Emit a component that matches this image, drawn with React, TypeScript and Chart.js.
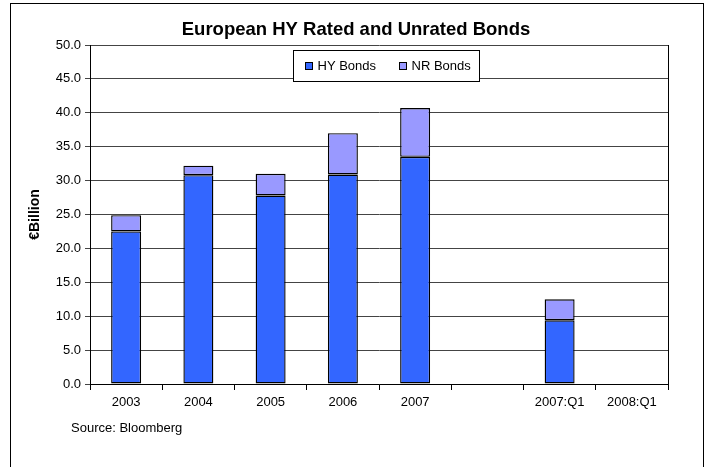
import React, { useEffect, useRef } from "react";
import { Chart, registerables } from "chart.js";

Chart.register(...registerables);

const categories = ["2003", "2004", "2005", "2006", "2007", "", "2007:Q1", "2008:Q1"];
const hyBonds = [22.5, 30.8, 27.8, 30.9, 33.5, null, 9.4, null];
const nrBonds = [2.4, 1.4, 3.2, 6.1, 7.2, null, 3.1, null];
const seriesNames = ["HY Bonds", "NR Bonds"];
const seriesColors = ["#3366FF", "#9999FF"];
const yMin = 0;
const yMax = 50;
const yStep = 5;
const chartTitle = "European HY Rated and Unrated Bonds";
const yTitle = "€Billion";
const sourceNote = "Source: Bloomberg";

const FONT = "'Liberation Sans', Arial, Helvetica, sans-serif";

const boxedLegend = {
  id: "boxedLegend",
  afterDatasetsDraw(chart: any) {
    const { ctx, chartArea } = chart;
    const left = Math.round(chartArea.left) + 203.5;
    const top = Math.round(chartArea.top) + 5.5;
    const w = 186;
    const h = 31;
    ctx.save();
    ctx.fillStyle = "#fff";
    ctx.strokeStyle = "#000";
    ctx.lineWidth = 1;
    ctx.fillRect(left, top, w, h);
    ctx.strokeRect(left, top, w, h);
    ctx.font = `13px ${FONT}`;
    ctx.textBaseline = "middle";
    ctx.textAlign = "left";
    const cy = top + h / 2;
    const offsets = [12, 106];
    chart.data.datasets.forEach((ds: any, i: number) => {
      const x = left + offsets[i];
      ctx.fillStyle = ds.backgroundColor;
      ctx.fillRect(x, cy - 3.5, 7, 7);
      ctx.strokeRect(x, cy - 3.5, 7, 7);
      ctx.fillStyle = "#000";
      ctx.fillText(ds.label, x + 12, cy + 0.5);
    });
    ctx.restore();
  },
};

export default function App() {
  const canvasRef = useRef<HTMLCanvasElement | null>(null);

  useEffect(() => {
    const canvas = canvasRef.current;
    if (!canvas) return;
    const barStyle = {
      borderColor: "#000",
      borderWidth: 1.4,
      borderSkipped: false,
      inflateAmount: 0,
      barPercentage: 0.415,
      categoryPercentage: 1,
    };
    const chart = new Chart(canvas, {
      type: "bar",
      data: {
        labels: categories,
        datasets: [
          { label: seriesNames[0], data: hyBonds, backgroundColor: seriesColors[0], ...barStyle },
          { label: seriesNames[1], data: nrBonds, backgroundColor: seriesColors[1], ...barStyle },
        ],
      },
      options: {
        responsive: false,
        animation: false,
        devicePixelRatio: 1,
        layout: { padding: { left: 2, right: 0, top: 0, bottom: 0 } },
        plugins: {
          legend: { display: false },
          tooltip: { enabled: false },
          title: {
            display: true,
            text: chartTitle,
            color: "#000",
            font: { family: FONT, size: 18.5, weight: "bold" },
            padding: { top: 18.9, bottom: 3.9 },
          },
        },
        scales: {
          x: {
            stacked: true,
            offset: true,
            grid: {
              display: true,
              offset: true,
              drawOnChartArea: false,
              drawTicks: true,
              tickLength: 6,
              color: "#000",
            },
            border: { display: true, color: "#000", width: 1 },
            ticks: {
              color: "#000",
              font: { family: FONT, size: 13 },
              padding: 5,
              maxRotation: 0,
              autoSkip: false,
            },
            afterFit: (scale: any) => {
              scale.height = 83;
            },
          },
          y: {
            stacked: true,
            min: yMin,
            max: yMax,
            position: "left",
            grid: {
              color: "#444",
              drawTicks: true,
              tickLength: 5,
            },
            border: { display: true, color: "#000", width: 1 },
            ticks: {
              stepSize: yStep,
              color: "#000",
              font: { family: FONT, size: 13 },
              padding: 4,
              callback: (v: any) => Number(v).toFixed(1),
            },
            title: {
              display: true,
              text: yTitle,
              color: "#000",
              font: { family: FONT, size: 14, weight: "bold" },
              padding: { top: 24.6, bottom: 0 },
            },
            afterFit: (scale: any) => {
              scale.width = 88;
            },
          },
          yRight: {
            position: "right",
            min: yMin,
            max: yMax,
            grid: { display: false, drawOnChartArea: false, drawTicks: false },
            border: { display: true, color: "#000", width: 1 },
            ticks: { display: false },
            afterFit: (scale: any) => {
              scale.width = 42;
            },
          },
        },
      },
      plugins: [boxedLegend],
    } as any);
    return () => chart.destroy();
  }, []);

  return (
    <div style={{ position: "absolute", left: 0, top: 0, width: 710, height: 467, overflow: "hidden", background: "#fff" }}>
      <div
        style={{
          position: "absolute",
          left: 10,
          top: 3,
          width: 694,
          height: 480,
          border: "1px solid #000",
          boxSizing: "border-box",
        }}
      />
      <canvas ref={canvasRef} width={710} height={467} style={{ position: "absolute", left: 0, top: 0 }} />
      <div
        style={{
          position: "absolute",
          left: 71,
          top: 420,
          font: `13px ${FONT}`,
          lineHeight: "15px",
          color: "#000",
          whiteSpace: "nowrap",
        }}
      >
        {sourceNote}
      </div>
    </div>
  );
}
